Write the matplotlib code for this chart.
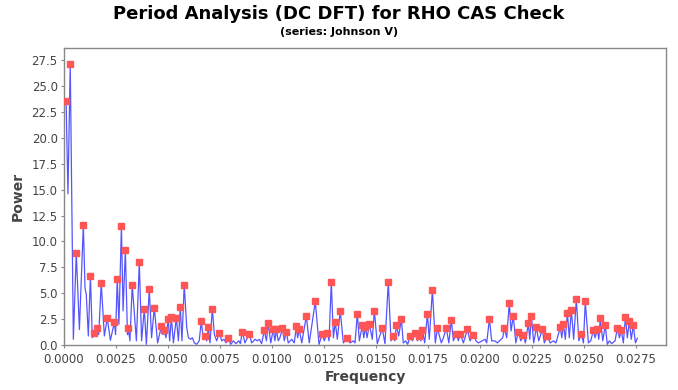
import matplotlib
matplotlib.use("Agg")
import matplotlib.pyplot as plt
import numpy as np

# Marked peaks (frequency, power)
peak_freq = [0.00010, 0.00030, 0.00059, 0.00093, 0.00127, 0.00146, 0.00160, 0.00179, 0.00208, 0.00242,
             0.00256, 0.00276, 0.00295, 0.00309, 0.00328, 0.00362, 0.00386, 0.00410, 0.00434, 0.00468,
             0.00482, 0.00501, 0.00516, 0.00540, 0.00559, 0.00578, 0.00660, 0.00679, 0.00694, 0.00713,
             0.00747, 0.00790, 0.00857, 0.00891, 0.00963, 0.00982, 0.01006, 0.01021, 0.01050, 0.01069,
             0.01117, 0.01131, 0.01165, 0.01208, 0.01242, 0.01266, 0.01285, 0.01304, 0.01328, 0.01362,
             0.01410, 0.01434, 0.01449, 0.01468, 0.01492, 0.01530, 0.01559, 0.01583, 0.01598, 0.01622,
             0.01665, 0.01689, 0.01708, 0.01723, 0.01747, 0.01771, 0.01795, 0.01838, 0.01862, 0.01886,
             0.01905, 0.01939, 0.01968, 0.02045, 0.02117, 0.02141, 0.02160, 0.02184, 0.02208, 0.02232,
             0.02247, 0.02271, 0.02300, 0.02324, 0.02386, 0.02401, 0.02420, 0.02439, 0.02463, 0.02487,
             0.02506, 0.02545, 0.02564, 0.02578, 0.02602, 0.02660, 0.02679, 0.02699, 0.02718, 0.02737]
peak_power = [23.6, 27.1, 8.9, 11.6, 6.7, 1.2, 1.6, 6.0, 2.6, 2.2,
              6.4, 11.5, 9.2, 1.6, 5.8, 8.0, 3.5, 5.4, 3.6, 1.8,
              1.4, 2.5, 2.7, 2.6, 3.7, 5.8, 2.3, 0.9, 1.7, 3.5,
              1.2, 0.7, 1.3, 1.1, 1.4, 2.1, 1.5, 1.5, 1.6, 1.3,
              1.8, 1.5, 2.8, 4.2, 1.1, 1.2, 6.1, 2.2, 3.3, 0.7,
              3.0, 1.9, 1.7, 2.0, 3.3, 1.6, 6.1, 0.9, 1.9, 2.5,
              0.9, 1.2, 0.9, 1.4, 3.0, 5.3, 1.6, 1.6, 2.4, 1.1,
              1.1, 1.5, 1.0, 2.5, 1.6, 4.1, 2.8, 1.3, 1.0, 2.1,
              2.8, 1.7, 1.5, 0.9, 1.7, 2.0, 3.1, 3.4, 4.4, 1.1,
              4.2, 1.4, 1.5, 2.6, 1.9, 1.6, 1.4, 2.7, 2.3, 1.9]

# Unmarked spectrum points between peaks (troughs and small wiggles)
trough_freq = [0.00019, 0.00045, 0.00074, 0.00101, 0.00107, 0.00117, 0.00136, 0.00154, 0.00167, 0.00194,
               0.00223, 0.00248, 0.00264, 0.00284, 0.00305, 0.00317, 0.00348, 0.00373, 0.00396, 0.00421,
               0.00450, 0.00476, 0.00490, 0.00508, 0.00526, 0.00550, 0.00567, 0.00590, 0.00598, 0.00609,
               0.00617, 0.00627, 0.00638, 0.00650, 0.00670, 0.00686, 0.00702, 0.00723, 0.00734, 0.00758,
               0.00769, 0.00779, 0.00801, 0.00814, 0.00827, 0.00840, 0.00848, 0.00870, 0.00902, 0.00918,
               0.00929, 0.00939, 0.00950, 0.00973, 0.00994, 0.01014, 0.01030, 0.01038, 0.01059, 0.01078,
               0.01095, 0.01107, 0.01123, 0.01143, 0.01179, 0.01226, 0.01251, 0.01274, 0.01295, 0.01314,
               0.01343, 0.01375, 0.01391, 0.01399, 0.01420, 0.01441, 0.01457, 0.01482, 0.01506, 0.01543,
               0.01572, 0.01590, 0.01609, 0.01631, 0.01643, 0.01652, 0.01675, 0.01699, 0.01715, 0.01734,
               0.01756, 0.01785, 0.01814, 0.01824, 0.01850, 0.01872, 0.01896, 0.01920, 0.01952, 0.01981,
               0.01992, 0.02024, 0.02032, 0.02056, 0.02072, 0.02083, 0.02096, 0.02109, 0.02128, 0.02149,
               0.02172, 0.02196, 0.02218, 0.02239, 0.02258, 0.02282, 0.02309, 0.02337, 0.02353, 0.02365,
               0.02393, 0.02410, 0.02429, 0.02450, 0.02475, 0.02497, 0.02521, 0.02532, 0.02553, 0.02571,
               0.02590, 0.02612, 0.02622, 0.02633, 0.02649, 0.02670, 0.02689, 0.02708, 0.02727, 0.02747,
               0.02756]
trough_power = [14.6, 0.55, 1.5, 5.5, 4.9, 0.87, 0.7, 0.87, 1.0, 0.87,
                0.45, 1.0, 2.0, 3.3, 1.0, 0.4, 0.4, 0.4, 0.06, 0.7,
                0.2, 1.0, 0.7, 0.4, 0.2, 0.4, 0.4, 1.7, 0.7, 0.55,
                0.7, 0.2, 0.06, 0.4, 0.55, 0.4, 0.2, 1.0, 0.4, 0.4,
                0.55, 0.2, 0.06, 0.4, 0.13, 0.4, 0.13, 0.2, 0.2, 0.55,
                0.4, 0.55, 0.13, 0.4, 0.2, 0.4, 0.4, 0.7, 0.4, 0.2,
                0.55, 0.2, 0.7, 0.2, 0.2, 0.06, 0.4, 0.4, 0.7, 0.55,
                0.2, 0.2, 0.4, 0.2, 0.4, 0.7, 0.7, 0.55, 0.13, 0.13,
                0.4, 0.4, 0.87, 0.2, 0.4, 0.06, 0.4, 0.4, 0.4, 0.2,
                0.55, 0.2, 0.2, 0.7, 0.2, 0.4, 0.4, 0.2, 0.4, 0.4,
                0.2, 0.55, 0.2, 0.4, 0.4, 0.2, 0.45, 0.7, 0.7, 1.35,
                0.2, 0.4, 0.2, 0.55, 0.2, 0.4, 0.2, 0.2, 0.4, 0.2,
                0.7, 0.55, 0.7, 0.55, 0.4, 0.2, 0.2, 0.4, 0.7, 0.55,
                0.4, 0.06, 0.4, 0.13, 0.4, 0.7, 0.2, 0.7, 0.55, 0.2,
                0.65]

x_ticks = [0.0000, 0.0025, 0.0050, 0.0075, 0.0100, 0.0125, 0.0150, 0.0175, 0.0200, 0.0225, 0.0250, 0.0275]
y_ticks = [0.0, 2.5, 5.0, 7.5, 10.0, 12.5, 15.0, 17.5, 20.0, 22.5, 25.0, 27.5]

line_f = np.array(peak_freq + trough_freq)
line_p = np.array(peak_power + trough_power)
order = np.argsort(line_f)
line_f, line_p = line_f[order], line_p[order]

fig = plt.figure(figsize=(6.78, 3.90), dpi=100)
ax = fig.add_axes([64 / 678, 1 - 345 / 390, (666 - 64) / 678, (345 - 48) / 390])

ax.plot(line_f, line_p, color="#5555FF", lw=0.9, zorder=2)
ax.plot(peak_freq, peak_power, linestyle="none", marker="s", markersize=4.6,
        markerfacecolor="#FF5555", markeredgecolor="#FF5555", zorder=3)

ax.set_xlim(0.0, 0.02894)
ax.set_ylim(0.0, 28.67)
ax.set_xticks(x_ticks)
ax.set_xticklabels([f"{v:.4f}" for v in x_ticks])
ax.set_yticks(y_ticks)
ax.set_yticklabels([f"{v:.1f}" for v in y_ticks])

tick_col = "#444444"
ax.tick_params(axis="both", which="both", direction="out", length=2.5, width=0.8,
               colors="#888888", labelcolor=tick_col, labelsize=8.5)
ax.tick_params(axis="x", pad=3.5)
ax.tick_params(axis="y", pad=2)
for s in ax.spines.values():
    s.set_color("#888888")
    s.set_linewidth(1.0)

ax.set_xlabel("Frequency", fontsize=10, fontweight="bold", color=tick_col, labelpad=3)
ax.set_ylabel("Power", fontsize=10, fontweight="bold", color=tick_col, labelpad=5)

fig.text(0.5, 1 - 14 / 390, "Period Analysis (DC DFT) for RHO CAS Check",
         ha="center", va="center", fontsize=13, fontweight="bold", color="black")
fig.text(0.5, 1 - 32 / 390, "(series: Johnson V)", ha="center", va="center",
         fontsize=8, fontweight="bold", color="black")

fig.savefig("out.png", dpi=100)
